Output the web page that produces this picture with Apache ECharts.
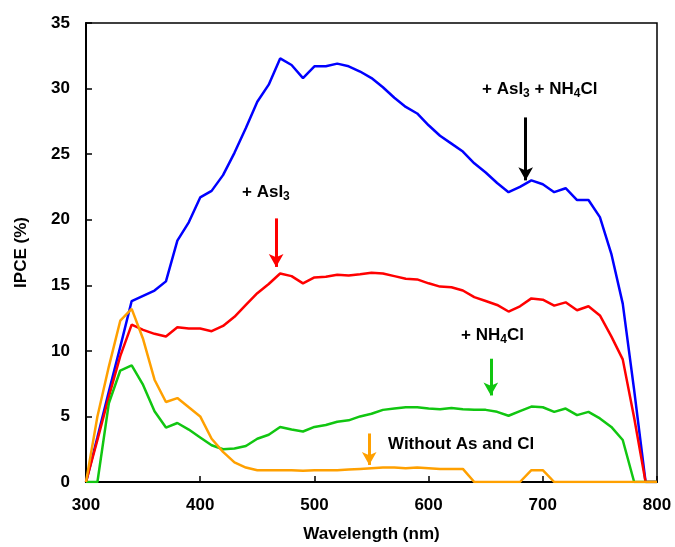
<!DOCTYPE html>
<html>
<head>
<meta charset="utf-8">
<script src="https://cdn.jsdelivr.net/npm/echarts@6/dist/echarts.min.js"></script>
<style>html,body{margin:0;padding:0;background:#fff}#c{width:675px;height:547px}</style>
</head>
<body>
<div id="c"></div>
<script>
const wavelengths = [300,310,320,330,340,350,360,370,380,390,400,410,420,430,440,450,460,470,480,490,500,510,520,530,540,550,560,570,580,590,600,610,620,630,640,650,660,670,680,690,700,710,720,730,740,750,760,770,780,790,800];
const asi3Nh4cl = [0,3.4,6.9,10.3,13.8,14.2,14.6,15.3,18.4,19.8,21.7,22.2,23.4,25.1,27.0,29.0,30.3,32.3,31.8,30.8,31.7,31.7,31.9,31.7,31.3,30.8,30.1,29.3,28.6,28.1,27.2,26.4,25.8,25.2,24.3,23.6,22.8,22.1,22.5,23.0,22.7,22.1,22.4,21.5,21.5,20.2,17.4,13.6,7.0,0,0];
const asi3 = [0,3.2,6.5,9.6,12.0,11.6,11.3,11.1,11.8,11.7,11.7,11.5,11.9,12.6,13.5,14.4,15.1,15.9,15.7,15.15,15.6,15.65,15.8,15.75,15.85,15.96,15.9,15.7,15.5,15.45,15.15,14.9,14.85,14.6,14.1,13.8,13.5,13.0,13.4,14.0,13.9,13.45,13.7,13.1,13.4,12.7,11.1,9.35,4.9,0,0];
const nh4cl = [0,0,6.0,8.5,8.9,7.4,5.4,4.15,4.5,4.0,3.4,2.8,2.5,2.55,2.75,3.3,3.6,4.2,4.0,3.85,4.2,4.35,4.6,4.7,5.0,5.2,5.5,5.6,5.7,5.7,5.6,5.55,5.65,5.55,5.5,5.5,5.35,5.05,5.4,5.75,5.7,5.35,5.6,5.1,5.35,4.85,4.2,3.2,0,0,0];
const withoutAsCl = [0,5.0,8.8,12.3,13.2,10.9,7.8,6.1,6.4,5.7,5.0,3.3,2.3,1.5,1.1,0.9,0.9,0.9,0.9,0.85,0.9,0.9,0.9,0.95,1.0,1.05,1.1,1.1,1.05,1.1,1.05,1.0,1.0,1.0,0,0,0,0,0,0.9,0.9,0,0,0,0,0,0,0,0,0,0];
const xTicks = [300,400,500,600,700,800];
const yTicks = [0,5,10,15,20,25,30,35];

// annotation arrows: [x, yStart, yEnd] in data units
const arrowAsi3Nh4cl = [685, 27.8, 23.0];
const arrowAsi3 = [466.5, 20.1, 16.4];
const arrowNh4cl = [654.5, 9.4, 6.6];
const arrowWithout = [548, 3.7, 1.3];

const colors = {blue:'#0000FF', red:'#FF0000', green:'#11C611', orange:'#FFA000'};

function pairs(ys){ return wavelengths.map((x,i)=>[x, ys[i]]); }
function arrow(a, color){
  return {
    silent:true, symbol:['none','arrow'], symbolSize:[11,13],
    lineStyle:{color:color, width:3, type:'solid'}, label:{show:false},
    emphasis:{disabled:true}, animation:false,
    data:[[{coord:[a[0],a[1]]},{coord:[a[0],a[2]]}]]
  };
}
function series(name, ys, color, a, arrowColor){
  return {name, type:'line', data:pairs(ys), showSymbol:false, symbol:'none',
    lineStyle:{color, width:2.5}, itemStyle:{color}, animation:false,
    markLine: arrow(a, arrowColor || color)};
}

const font = 'Liberation Sans, Arial, sans-serif';
const chart = echarts.init(document.getElementById('c'));
const rich = {
  t:{fontSize:17, fontWeight:'bold', fontFamily:font, color:'#000', lineHeight:21},
  s:{fontSize:12, fontWeight:'bold', fontFamily:font, color:'#000', lineHeight:21, verticalAlign:'bottom', padding:[6,0,0,0]}
};
function txt(str, x, y, align){
  return {type:'text', left:x, top:y, style:{rich, text:str, align:align||'left', fill:'#000'}};
}
chart.setOption({
  animation:false,
  grid:{left:86, right:18, top:23, bottom:65, outerBoundsMode:'none', containLabel:false,
    show:true, borderColor:'#000', borderWidth:1.5, backgroundColor:'transparent'},
  xAxis:{type:'value', min:300, max:800, interval:100,
    name:'Wavelength (nm)', nameLocation:'middle', nameGap:44,
    nameTextStyle:{fontSize:17, fontWeight:'bold', fontFamily:font, color:'#000'},
    axisLine:{show:true, lineStyle:{color:'#000', width:2}},
    axisTick:{show:true, inside:true, length:6, lineStyle:{color:'#000', width:1.5}},
    axisLabel:{fontSize:17, fontWeight:'bold', fontFamily:font, color:'#000', margin:15,
      customValues: xTicks},
    splitLine:{show:false}},
  yAxis:{type:'value', min:0, max:35, interval:5,
    name:'IPCE (%)', nameLocation:'middle', nameGap:56, nameRotate:90,
    nameTextStyle:{fontSize:17, fontWeight:'bold', fontFamily:font, color:'#000'},
    axisLine:{show:true, lineStyle:{color:'#000', width:2}},
    axisTick:{show:true, inside:true, length:6, lineStyle:{color:'#000', width:1.5}},
    axisLabel:{fontSize:17, fontWeight:'bold', fontFamily:font, color:'#000', margin:16,
      customValues: yTicks},
    splitLine:{show:false}},
  series:[
    series('+ AsI3 + NH4Cl', asi3Nh4cl, colors.blue, arrowAsi3Nh4cl, '#000'),
    series('+ AsI3', asi3, colors.red, arrowAsi3),
    series('+ NH4Cl', nh4cl, colors.green, arrowNh4cl),
    series('Without As and Cl', withoutAsCl, colors.orange, arrowWithout)
  ],
  graphic:[
    txt('{t|+ AsI}{s|3}', 242, 184),
    txt('{t|+ AsI}{s|3}{t| + NH}{s|4}{t|Cl}', 482, 81),
    txt('{t|+ NH}{s|4}{t|Cl}', 461, 327),
    txt('{t|Without As and Cl}', 388, 436)
  ]
});
</script>
</body>
</html>
